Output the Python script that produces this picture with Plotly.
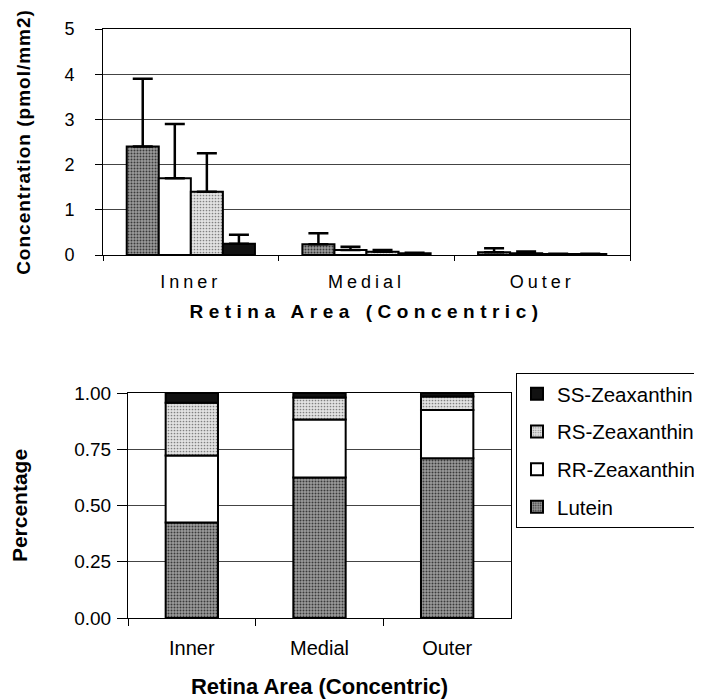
import plotly.graph_objects as go

areas = ["Inner", "Medial", "Outer"]
series = ["Lutein", "RR-Zeaxanthin", "RS-Zeaxanthin", "SS-Zeaxanthin"]

# Top chart: concentration (pmol/mm2) and upper error
conc_lutein = [2.40, 0.24, 0.06]
conc_rr = [1.70, 0.11, 0.04]
conc_rs = [1.40, 0.07, 0.02]
conc_ss = [0.25, 0.04, 0.02]
err_lutein = [1.50, 0.24, 0.09]
err_rr = [1.20, 0.07, 0.04]
err_rs = [0.85, 0.04, 0.01]
err_ss = [0.20, 0.01, 0.01]

# Bottom chart: fraction of total
pct_lutein = [0.425, 0.625, 0.71]
pct_rr = [0.297, 0.257, 0.215]
pct_rs = [0.235, 0.098, 0.06]
pct_ss = [0.043, 0.020, 0.015]

styles = {
    "Lutein": dict(color="#8c8c8c", pattern=dict(shape=".", fgcolor="#3a3a3a", bgcolor="#9c9c9c", size=3, solidity=0.35)),
    "RR-Zeaxanthin": dict(color="white"),
    "RS-Zeaxanthin": dict(color="#d8d8d8", pattern=dict(shape=".", fgcolor="#808080", bgcolor="#e2e2e2", size=3, solidity=0.25)),
    "SS-Zeaxanthin": dict(color="#111111"),
}

conc = {"Lutein": conc_lutein, "RR-Zeaxanthin": conc_rr, "RS-Zeaxanthin": conc_rs, "SS-Zeaxanthin": conc_ss}
errs = {"Lutein": err_lutein, "RR-Zeaxanthin": err_rr, "RS-Zeaxanthin": err_rs, "SS-Zeaxanthin": err_ss}
pcts = {"Lutein": pct_lutein, "RR-Zeaxanthin": pct_rr, "RS-Zeaxanthin": pct_rs, "SS-Zeaxanthin": pct_ss}
legend_rank = {"SS-Zeaxanthin": 1, "RS-Zeaxanthin": 2, "RR-Zeaxanthin": 3, "Lutein": 4}

FONT = "Liberation Sans, Arial, sans-serif"
W, H, OFF = 702, 700, 8  # page body margin offsets the figure by 8 px


def px_x(v):
    return (v - OFF) / W


def px_y(v):
    return 1 - (v - OFF) / H


def spaced(text, px):
    return '<span style="letter-spacing:%spx">%s</span>' % (px, text)


fig = go.Figure()

for s in series:
    st = styles[s]
    marker = dict(color=st["color"], line=dict(color="black", width=2))
    if "pattern" in st:
        marker["pattern"] = st["pattern"]
    fig.add_trace(go.Bar(
        x=areas, y=conc[s], name=s, marker=marker, showlegend=False,
        xaxis="x", yaxis="y",
        error_y=dict(type="data", array=errs[s], arrayminus=[0] * 3, symmetric=False,
                     color="black", thickness=2.5, width=10),
    ))

base = [0.0, 0.0, 0.0]
for s in series:
    st = styles[s]
    marker = dict(color=st["color"], line=dict(color="black", width=2))
    if "pattern" in st:
        marker["pattern"] = st["pattern"]
    fig.add_trace(go.Bar(
        x=areas, y=pcts[s], base=list(base), name=s, marker=marker, legendgroup=s,
        legendrank=legend_rank[s],
        xaxis="x2", yaxis="y2", offsetgroup="stack", width=0.41, offset=-0.205,
    ))
    base = [b + v for b, v in zip(base, pcts[s])]

axis_common = dict(showline=True, linecolor="black", linewidth=1, mirror=True,
                   automargin=False, zeroline=False)

fig.update_layout(
    template="none",
    width=W, height=H,
    margin=dict(l=0, r=0, t=0, b=0, autoexpand=False),
    paper_bgcolor="white", plot_bgcolor="white",
    barmode="group", bargap=0.27, bargroupgap=0,
    font=dict(family=FONT, color="black"),
    xaxis=dict(domain=[px_x(103), px_x(630)], anchor="y", ticks="outside", ticklen=5,
               tickson="boundaries", tickcolor="black", showgrid=False,
               tickmode="array", tickvals=areas, ticktext=[spaced(a, 4) for a in areas],
               tickfont=dict(family=FONT, size=18, color="black"), ticklabelstandoff=10,
               title=dict(text="<b>" + spaced("Retina Area (Concentric)", 5.5) + "</b>",
                          font=dict(family=FONT, size=19), standoff=14),
               **axis_common),
    yaxis=dict(domain=[px_y(255), px_y(29)], anchor="x", range=[0, 5], dtick=1,
               ticks="outside", ticklen=7, tickcolor="black",
               tickfont=dict(family=FONT, size=18, color="black"), ticklabelstandoff=17,
               showgrid=True, gridcolor="#444", gridwidth=1,
               title=dict(text="<b>" + spaced("Concentration (pmol/mm2)", 1) + "</b>",
                          font=dict(family=FONT, size=19), standoff=28),
               **axis_common),
    xaxis2=dict(domain=[px_x(128), px_x(511)], anchor="y2", ticks="outside", ticklen=7,
                tickson="boundaries", tickcolor="black", showgrid=False,
                tickfont=dict(family=FONT, size=20, color="black"), ticklabelstandoff=12,
                title=dict(text="<b>Retina Area (Concentric)</b>", font=dict(family=FONT, size=22), standoff=20),
                **axis_common),
    yaxis2=dict(domain=[px_y(618), px_y(393)], anchor="x2", range=[0, 1], dtick=0.25,
                tickformat=".2f", ticks="outside", ticklen=10, tickcolor="black",
                tickfont=dict(family=FONT, size=19, color="black"), ticklabelstandoff=2,
                showgrid=True, gridcolor="#444", gridwidth=1,
                title=dict(text="<b>Percentage</b>", font=dict(family=FONT, size=21), standoff=40),
                **axis_common),
    legend=dict(x=px_x(516), y=px_y(373), xanchor="left", yanchor="top",
                traceorder="grouped", bordercolor="black", borderwidth=1,
                font=dict(family=FONT, size=20.5, color="black"), itemwidth=30,
                tracegroupgap=8, bgcolor="white"),
)

fig.write_html("out.html")
